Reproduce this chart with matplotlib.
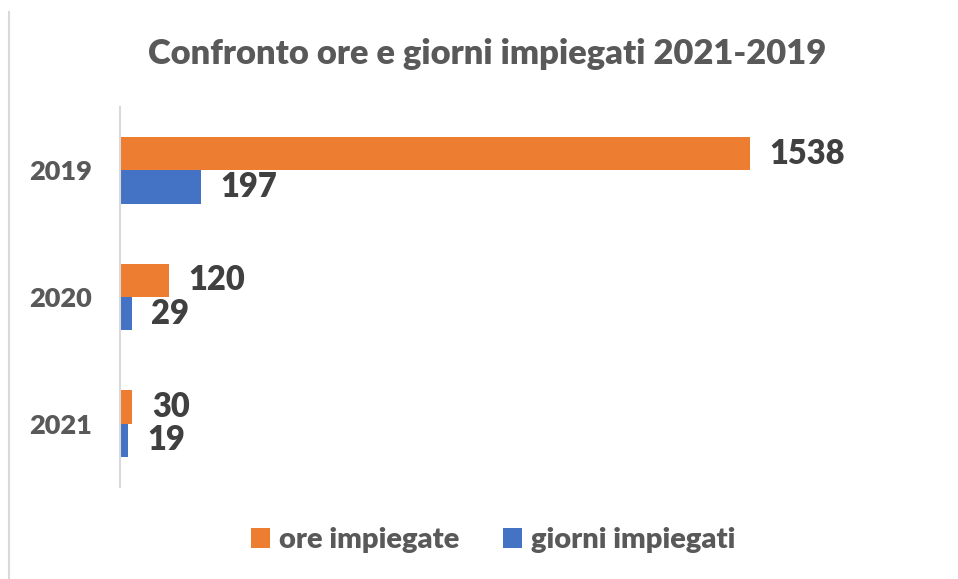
import matplotlib.pyplot as plt
from matplotlib.lines import Line2D

anni = ['2021', '2020', '2019']
ore_impiegate = [30, 120, 1538]
giorni_impiegati = [19, 29, 197]

arancio = '#ED7D31'
blu = '#4472C4'

plt.rcParams['font.family'] = ['Lato', 'DejaVu Sans']

fig = plt.figure(figsize=(9.58, 5.79), dpi=100)
ax = fig.add_axes([0.1253, 0.1589, 0.7693, 0.6563])

y = range(len(anni))
h = 0.262
bar_ore = ax.barh([i + h / 2 for i in y], ore_impiegate, height=h, color=arancio, label='ore impiegate')
bar_gio = ax.barh([i - h / 2 for i in y], giorni_impiegati, height=h, color=blu, label='giorni impiegati')

for barre in (bar_ore, bar_gio):
    ax.bar_label(barre, padding=14, fontsize=23.5, fontweight='heavy', color='#404040')

ax.set_xlim(0, 1800)
ax.set_ylim(-0.5, 2.5)
ax.set_yticks(list(y))
ax.set_yticklabels(anni, fontsize=19.5, fontweight='heavy', color='#595959')
ax.tick_params(axis='y', length=0, pad=20)
ax.set_xticks([])
for lato in ['top', 'right', 'bottom']:
    ax.spines[lato].set_visible(False)
ax.spines['left'].set_color('#d9d9d9')
ax.spines['left'].set_linewidth(1.5)

fig.text(0.509, 0.907, 'Confronto ore e giorni impiegati 2021-2019', ha='center', va='center',
         fontsize=24.8, fontweight='heavy', color='#595959')

fig.legend(handles=[bar_ore, bar_gio], loc='center', bbox_to_anchor=(0.515, 0.067), ncol=2,
           frameon=False, prop={'size': 21, 'weight': 'heavy'}, labelcolor='#595959',
           handlelength=0.65, handleheight=0.65, handletextpad=0.3, columnspacing=1.5)

fig.add_artist(Line2D([0.0094, 0.0094], [0, 0.98], color='#d9d9d9', linewidth=1.5))

fig.savefig('out.png', dpi=100)
